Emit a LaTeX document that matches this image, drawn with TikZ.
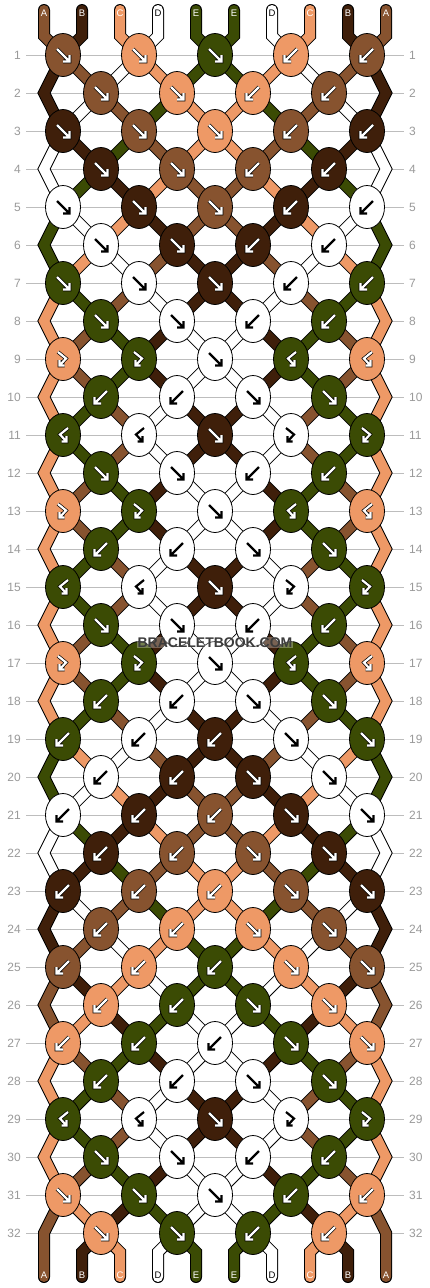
\documentclass[tikz,border=0pt]{standalone}
\usepackage{fontspec}
\setmainfont{Liberation Sans}
\usetikzlibrary{shapes.geometric}
\definecolor{colA}{HTML}{87532F}
\definecolor{colB}{HTML}{3F1F0A}
\definecolor{colC}{HTML}{EE9966}
\definecolor{colD}{HTML}{FFFFFF}
\definecolor{colE}{HTML}{3B4B04}
\definecolor{rowgray}{HTML}{BDBDBD}
\definecolor{numgray}{HTML}{9A9A9A}
\definecolor{wmgray}{HTML}{3C3C3C}
\tikzset{
  outl/.style={draw=black,line width=12pt,line join=miter,line cap=round},
  inn/.style={draw=#1,line width=10pt,line join=miter,line cap=round},
  knotst/.style={ellipse,draw=black,line width=0.8pt,minimum width=35pt,minimum height=43pt,inner sep=0pt},
  rowline/.style={draw=rowgray,line width=0.9pt},
  num/.style={text=numgray,font=\fontsize{12}{12}\selectfont,inner sep=0pt},
  lbl/.style={font=\fontsize{9.5}{10}\selectfont,inner sep=0pt},
}
\newcommand\arrowshape[2]{%
  \if#1f\draw[#2] (-6,-6) -- (5.5,5.5) (6.5,0) -- (6.5,6.5) -- (0,6.5);\fi
  \if#1b\draw[#2] (6,-6) -- (-5.5,5.5) (-6.5,0) -- (-6.5,6.5) -- (0,6.5);\fi
  \if#1x\draw[#2] (-5,-7) -- (3,-0.5) -- (-3,6) (-3.5,1) -- (-3.5,6.5) -- (1.5,6.5);\fi
  \if#1y\draw[#2] (5,-7) -- (-3,-0.5) -- (3,6) (3.5,1) -- (3.5,6.5) -- (-1.5,6.5);\fi
}
\newcommand\allstrands[1]{%
  \foreach \c [count=\p] in {A,B,C,D,E,E,D,C,B,A} {\draw[#1=col\c] (t-\p) -- (tb-\p) -- (p-1-\p);}
  \foreach \r/\st in {
    1/{B,A,D,C,E,E,C,D,A,B}, 2/{B,D,A,E,C,C,E,A,D,B}, 3/{D,B,E,A,C,C,A,E,B,D},
    4/{D,E,B,C,A,A,C,B,E,D}, 5/{E,D,C,B,A,A,B,C,D,E}, 6/{E,C,D,A,B,B,A,D,C,E},
    7/{C,E,A,D,B,B,D,A,E,C}, 8/{C,A,E,B,D,D,B,E,A,C}, 9/{C,A,E,B,D,D,B,E,A,C},
    10/{C,E,A,D,B,B,D,A,E,C}, 11/{C,E,A,D,B,B,D,A,E,C}, 12/{C,A,E,B,D,D,B,E,A,C},
    13/{C,A,E,B,D,D,B,E,A,C}, 14/{C,E,A,D,B,B,D,A,E,C}, 15/{C,E,A,D,B,B,D,A,E,C},
    16/{C,A,E,B,D,D,B,E,A,C}, 17/{C,A,E,B,D,D,B,E,A,C}, 18/{C,E,A,D,B,B,D,A,E,C},
    19/{E,C,D,A,B,B,A,D,C,E}, 20/{E,D,C,B,A,A,B,C,D,E}, 21/{D,E,B,C,A,A,C,B,E,D},
    22/{D,B,E,A,C,C,A,E,B,D}, 23/{B,D,A,E,C,C,E,A,D,B}, 24/{B,A,D,C,E,E,C,D,A,B},
    25/{A,B,C,D,E,E,D,C,B,A}, 26/{A,C,B,E,D,D,E,B,C,A}, 27/{C,A,E,B,D,D,B,E,A,C},
    28/{C,E,A,D,B,B,D,A,E,C}, 29/{C,E,A,D,B,B,D,A,E,C}, 30/{C,A,E,B,D,D,B,E,A,C},
    31/{A,C,B,E,D,D,E,B,C,A}} {%
    \pgfmathtruncatemacro\rn{\r+1}%
    \foreach \c [count=\p] in \st {%
      \ifnum\p>1 \ifnum\p<10 \draw[#1=col\c] (p-\r-\p) -- (p-\rn-\p);\fi\fi}%
  }
  \foreach \r/\c in {2/B,4/D,6/E,8/C,10/C,12/C,14/C,16/C,18/C,20/E,22/D,24/B,26/A,28/C,30/C} {%
    \pgfmathtruncatemacro\ra{\r-1}\pgfmathtruncatemacro\rb{\r+1}%
    \draw[#1=col\c] (p-\ra-1) -- (p-\r-1) -- (p-\rb-1);
    \draw[#1=col\c] (p-\ra-10) -- (p-\r-10) -- (p-\rb-10);
  }
  \draw[#1=colA] (p-31-1) -- (p-32-1) -- (b-1);
  \draw[#1=colA] (p-31-10) -- (p-32-10) -- (b-10);
  \foreach \c [count=\p from 2] in {B,C,D,E,E,D,C,B} {\draw[#1=col\c] (p-32-\p) -- (bb-\p) -- (b-\p);}
}
\begin{document}
\begin{tikzpicture}[x=1pt,y=-1pt]
\fill[white] (0,0) rectangle (430,1288);
\useasboundingbox (0,0) rectangle (430,1288);
% strand points
\foreach \r in {1,...,32} {
  \pgfmathsetmacro\yy{55+38*(\r-1)}
  \foreach \p in {1,...,10} {
    \pgfmathsetmacro\xx{isodd(\r) ? 63+76*floor((\p-1)/2) : (\p==1 ? 44 : (\p==10 ? 386 : 101+76*floor((\p-2)/2)))}
    \coordinate (p-\r-\p) at (\xx,\yy);
  }
}
\foreach \p in {1,...,10} {
  \pgfmathsetmacro\xx{44+38*(\p-1)}
  \coordinate (t-\p) at (\xx,10);
  \coordinate (tb-\p) at (\xx,36);
  \coordinate (bb-\p) at (\xx,1252);
  \coordinate (b-\p) at (\xx,1277);
}
% row lines and numbers
\foreach \r in {1,...,32} {
  \pgfmathsetmacro\yy{55+38*(\r-1)}
  \draw[rowline] (26,\yy) -- (404,\yy);
  \node[num,anchor=east] (nl-\r) at (21,\yy) {\r};
  \node[num,anchor=west] (nr-\r) at (409,\yy) {\r};
}
% strands
\allstrands{outl}
\allstrands{inn}
% knots
\foreach \r/\ks in {
  1/{A/f,C/f,E/f,C/b,A/b}, 2/{A/f,C/f,C/b,A/b}, 3/{B/f,A/f,C/f,A/b,B/b}, 4/{B/f,A/f,A/b,B/b},
  5/{D/f,B/f,A/f,B/b,D/b}, 6/{D/f,B/f,B/b,D/b}, 7/{E/f,D/f,B/f,D/b,E/b}, 8/{E/f,D/f,D/b,E/b},
  9/{C/x,E/x,D/f,E/y,C/y}, 10/{E/b,D/b,D/f,E/f}, 11/{E/y,D/y,B/f,D/x,E/x}, 12/{E/f,D/f,D/b,E/b},
  13/{C/x,E/x,D/f,E/y,C/y}, 14/{E/b,D/b,D/f,E/f}, 15/{E/y,D/y,B/f,D/x,E/x}, 16/{E/f,D/f,D/b,E/b},
  17/{C/x,E/x,D/f,E/y,C/y}, 18/{E/b,D/b,D/f,E/f}, 19/{E/b,D/b,B/b,D/f,E/f}, 20/{D/b,B/b,B/f,D/f},
  21/{D/b,B/b,A/b,B/f,D/f}, 22/{B/b,A/b,A/f,B/f}, 23/{B/b,A/b,C/b,A/f,B/f}, 24/{A/b,C/b,C/f,A/f},
  25/{A/b,C/b,E/b,C/f,A/f}, 26/{C/b,E/b,E/f,C/f}, 27/{C/b,E/b,D/b,E/f,C/f}, 28/{E/b,D/b,D/f,E/f},
  29/{E/y,D/y,B/f,D/x,E/x}, 30/{E/f,D/f,D/b,E/b}, 31/{C/f,E/f,D/f,E/b,C/b}, 32/{C/f,E/f,E/b,C/b}} {
  \foreach \kc/\kt [count=\i] in \ks {
    \pgfmathtruncatemacro\pp{isodd(\r) ? 2*\i-1 : 2*\i}
    \node[knotst,fill=col\kc] (k-\r-\i) at (p-\r-\pp) {};
    \if\kc D\def\arrcol{black}\def\arrout{none}\else\def\arrcol{white}\def\arrout{black}\fi
    \begin{scope}[shift={(k-\r-\i.center)}]
      \arrowshape{\kt}{draw=\arrout,line width=3.6pt}
      \arrowshape{\kt}{draw=\arrcol,line width=2.2pt}
    \end{scope}
  }
}
% strand letters
\foreach \c [count=\p] in {A,B,C,D,E,E,D,C,B,A} {
  \pgfmathsetmacro\xx{44+38*(\p-1)}
  \if\c D\def\lc{black}\else\def\lc{white}\fi
  \node[lbl,text=\lc] (lt-\p) at (\xx,13) {\c};
  \node[lbl,text=\lc] (lb-\p) at (\xx,1275.5) {\c};
}
% watermark
\node[text=wmgray,font=\fontsize{14}{14}\selectfont\bfseries,fill=white,fill opacity=0.3,text opacity=1,inner sep=0.5pt] (wm) at (215,642.5) {BRACELETBOOK.COM};
\end{tikzpicture}
\end{document}
